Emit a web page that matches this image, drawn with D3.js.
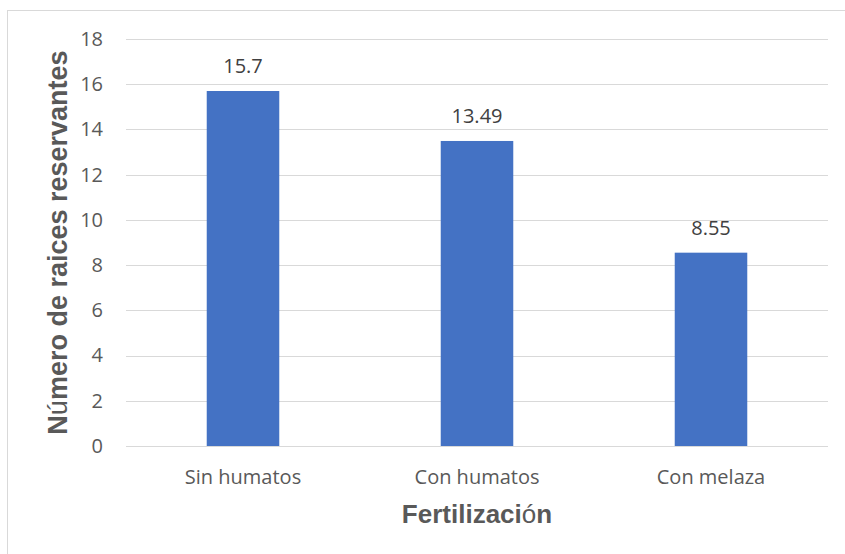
<!DOCTYPE html>
<html>
<head>
<meta charset="utf-8">
<script src="https://cdn.jsdelivr.net/npm/d3@7"></script>
<style>
  html, body { margin: 0; padding: 0; background: #fff; }
  svg { display: block; }
</style>
</head>
<body>
<svg id="chart" width="845" height="554"></svg>
<script>
// Data
const categories = ["Sin humatos", "Con humatos", "Con melaza"];
const values = [15.7, 13.49, 8.55];
const valueLabels = ["15.7", "13.49", "8.55"];
const yTicks = [0, 2, 4, 6, 8, 10, 12, 14, 16, 18];
// Title pieces: accented letters are set in regular weight
const xTitleParts = [["Fertilizaci", "bold"], ["ó", "normal"], ["n", "bold"]];
const yTitleParts = [["N", "bold"], ["ú", "normal"], ["mero de raices reservantes", "bold"]];

const svg = d3.select("#chart");
const W = 845, H = 554;
const margin = { left: 126, right: 17, top: 39, bottom: 108 };
const plotW = W - margin.left - margin.right;
const plotH = H - margin.top - margin.bottom;
const labelFont = "'Open Sans', sans-serif";
const titleFont = "'Liberation Sans', Arial, sans-serif";

// Chart frame
svg.append("rect")
  .attr("x", 7.5).attr("y", 10.5)
  .attr("width", 845).attr("height", 560)
  .attr("fill", "none").attr("stroke", "#d9d9d9").attr("stroke-width", 1);

const g = svg.append("g").attr("transform", `translate(${margin.left},${margin.top})`);

const x = d3.scaleBand().domain(categories).range([0, plotW]).paddingInner(0.69).paddingOuter(0.345);
const y = d3.scaleLinear().domain([0, 18]).range([plotH, 0]);

// Gridlines
g.append("g")
  .selectAll("line")
  .data(yTicks)
  .join("line")
  .attr("x1", 0).attr("x2", plotW)
  .attr("y1", d => Math.round(y(d)) + 0.5).attr("y2", d => Math.round(y(d)) + 0.5)
  .attr("stroke", "#d9d9d9").attr("stroke-width", 1);

// Y axis labels
const yAxis = d3.axisLeft(y).tickValues(yTicks).tickSize(0).tickPadding(23);
g.append("g").call(yAxis)
  .call(s => s.select(".domain").remove())
  .selectAll("text")
  .attr("font-family", labelFont)
  .attr("font-size", 20)
  .attr("fill", "#595959");

// X axis labels
const xAxis = d3.axisBottom(x).tickSize(0).tickPadding(24);
g.append("g").attr("transform", `translate(0,${plotH})`).call(xAxis)
  .call(s => s.select(".domain").remove())
  .selectAll("text")
  .attr("font-family", labelFont)
  .attr("font-size", 20)
  .attr("fill", "#595959");

// Bars
g.selectAll("rect.bar")
  .data(values)
  .join("rect")
  .attr("class", "bar")
  .attr("x", (d, i) => x(categories[i]))
  .attr("width", x.bandwidth())
  .attr("y", d => y(d))
  .attr("height", d => plotH - y(d))
  .attr("fill", "#4472c4");

// Value labels
g.selectAll("text.val")
  .data(values)
  .join("text")
  .attr("class", "val")
  .attr("x", (d, i) => x(categories[i]) + x.bandwidth() / 2)
  .attr("y", d => y(d) - 18)
  .attr("text-anchor", "middle")
  .attr("font-family", labelFont)
  .attr("font-size", 20)
  .attr("fill", "#404040")
  .text((d, i) => valueLabels[i]);

// Axis titles
function titleText(sel, parts) {
  sel.selectAll("tspan")
    .data(parts)
    .join("tspan")
    .attr("font-weight", d => d[1])
    .text(d => d[0]);
}

svg.append("text")
  .attr("x", margin.left + plotW / 2)
  .attr("y", 523)
  .attr("text-anchor", "middle")
  .attr("font-family", titleFont)
  .attr("font-size", 26)
  .attr("fill", "#595959")
  .call(titleText, xTitleParts);

svg.append("text")
  .attr("transform", `translate(67,${margin.top + plotH / 2}) rotate(-90)`)
  .attr("text-anchor", "middle")
  .attr("font-family", titleFont)
  .attr("font-size", 27)
  .attr("fill", "#595959")
  .call(titleText, yTitleParts);
</script>
</body>
</html>
